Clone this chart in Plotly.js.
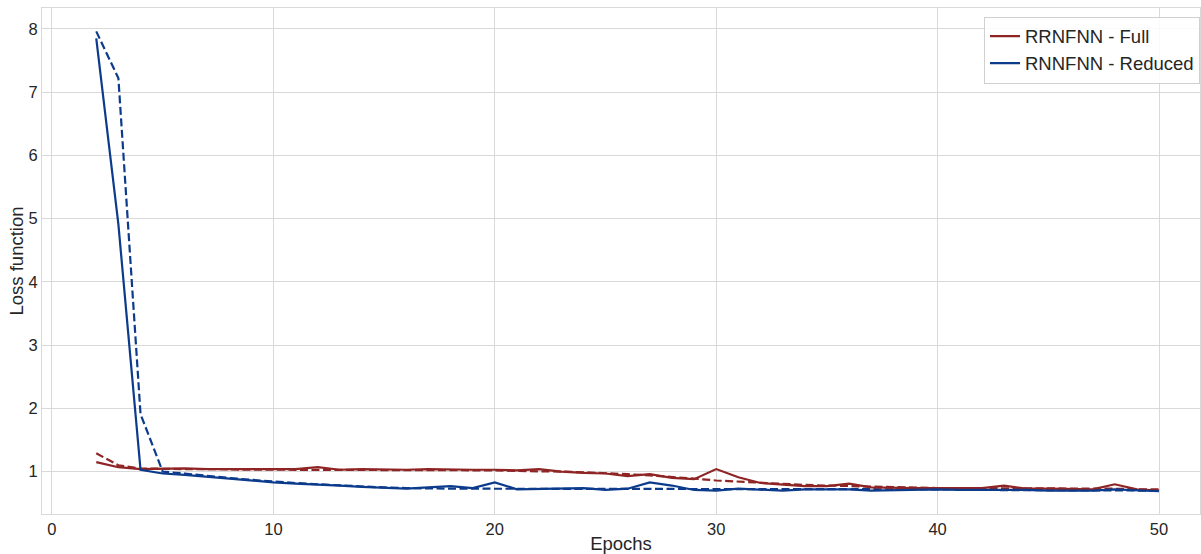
<!DOCTYPE html>
<html>
<head>
<meta charset="utf-8">
<script src="https://cdn.plot.ly/plotly-3.0.1.min.js"></script>
<style>html,body{margin:0;padding:0;background:#fff;}#chart{width:1201px;height:554px;}</style>
</head>
<body>
<div id="chart"></div>
<script>
const epochs = [2,3,4,5,6,7,8,9,10,11,12,13,14,15,16,17,18,19,20,21,22,23,24,25,26,27,28,29,30,31,32,33,34,35,36,37,38,39,40,41,42,43,44,45,46,47,48,49,50];

const fullSolid = [1.15,1.07,1.04,1.05,1.05,1.04,1.04,1.04,1.04,1.04,1.07,1.03,1.04,1.03,1.03,1.04,1.03,1.03,1.03,1.02,1.04,1.00,0.98,0.97,0.93,0.96,0.90,0.88,1.04,0.91,0.82,0.79,0.77,0.77,0.81,0.75,0.74,0.74,0.74,0.74,0.74,0.78,0.73,0.73,0.72,0.72,0.80,0.72,0.70];
const fullDashed = [1.29,1.10,1.05,1.04,1.04,1.04,1.03,1.03,1.03,1.03,1.03,1.03,1.03,1.03,1.02,1.02,1.02,1.02,1.02,1.01,1.01,1.00,0.99,0.98,0.96,0.94,0.92,0.89,0.86,0.84,0.82,0.80,0.79,0.78,0.77,0.76,0.75,0.75,0.74,0.74,0.74,0.73,0.73,0.73,0.73,0.73,0.73,0.72,0.72];

const reducedSolid = [7.85,4.91,1.03,0.97,0.95,0.92,0.88,0.86,0.83,0.81,0.80,0.78,0.76,0.75,0.73,0.75,0.77,0.74,0.83,0.72,0.73,0.73,0.74,0.71,0.73,0.83,0.78,0.71,0.70,0.73,0.71,0.70,0.72,0.72,0.72,0.70,0.71,0.72,0.72,0.71,0.71,0.72,0.71,0.70,0.70,0.70,0.72,0.71,0.69];
const reducedDashed = [7.96,7.22,1.91,1.00,0.97,0.93,0.90,0.87,0.84,0.82,0.80,0.78,0.76,0.75,0.74,0.73,0.73,0.73,0.73,0.73,0.73,0.73,0.73,0.72,0.72,0.72,0.72,0.72,0.72,0.72,0.72,0.72,0.72,0.72,0.72,0.72,0.72,0.72,0.72,0.72,0.71,0.71,0.71,0.71,0.71,0.71,0.71,0.70,0.70];

const seriesNames = ['RRNFNN - Full','RNNFNN - Reduced'];
const RED = '#8f2424';
const BLUE = '#0c3b8c';
const DASH = '8px,3.5px';

const traces = [
  {x: epochs, y: fullDashed, mode:'lines', line:{color:RED, width:2.2, dash:DASH}, showlegend:false, hoverinfo:'skip'},
  {x: epochs, y: reducedDashed, mode:'lines', line:{color:BLUE, width:2.2, dash:DASH}, showlegend:false, hoverinfo:'skip'},
  {x: epochs, y: fullSolid, mode:'lines', name: seriesNames[0], line:{color:RED, width:2.2}},
  {x: epochs, y: reducedSolid, mode:'lines', name: seriesNames[1], line:{color:BLUE, width:2.2}}
];

const layout = {
  width:1201, height:554,
  margin:{l:42, r:1, t:8, b:40},
  paper_bgcolor:'#fff', plot_bgcolor:'#fff',
  font:{family:'Liberation Sans, Arial, sans-serif', size:16, color:'#262626'},
  xaxis:{
    range:[-0.45,51.85], tickvals:[0,10,20,30,40,50], ticktext:['0','10','20','30','40','50'],
    showgrid:true, gridcolor:'#d9d9d9', gridwidth:1, zeroline:false,
    showline:true, linecolor:'#d9d9d9', mirror:true, ticks:'', ticklen:0,
    tickfont:{size:16.5, color:'#262626'},
    title:{text:'Epochs', font:{size:18.5, color:'#262626'}, standoff:4}
  },
  yaxis:{
    range:[0.33,8.33], tickvals:[1,2,3,4,5,6,7,8],
    showgrid:true, gridcolor:'#d9d9d9', gridwidth:1, zeroline:false,
    showline:true, linecolor:'#d9d9d9', mirror:true, ticks:'', ticklen:0,
    tickfont:{size:16.5, color:'#262626'},
    title:{text:'Loss function', font:{size:18.5, color:'#262626'}, standoff:0}
  },
  legend:{
    x:1, xanchor:'right', y:0.983, yanchor:'top',
    bgcolor:'rgba(255,255,255,0.85)', bordercolor:'#d0d0d0', borderwidth:1,
    font:{size:18.5, color:'#262626'}, tracegroupgap:0
  },
  showlegend:true
};

Plotly.newPlot('chart', traces, layout, {displayModeBar:false, staticPlot:true});
</script>
</body>
</html>
